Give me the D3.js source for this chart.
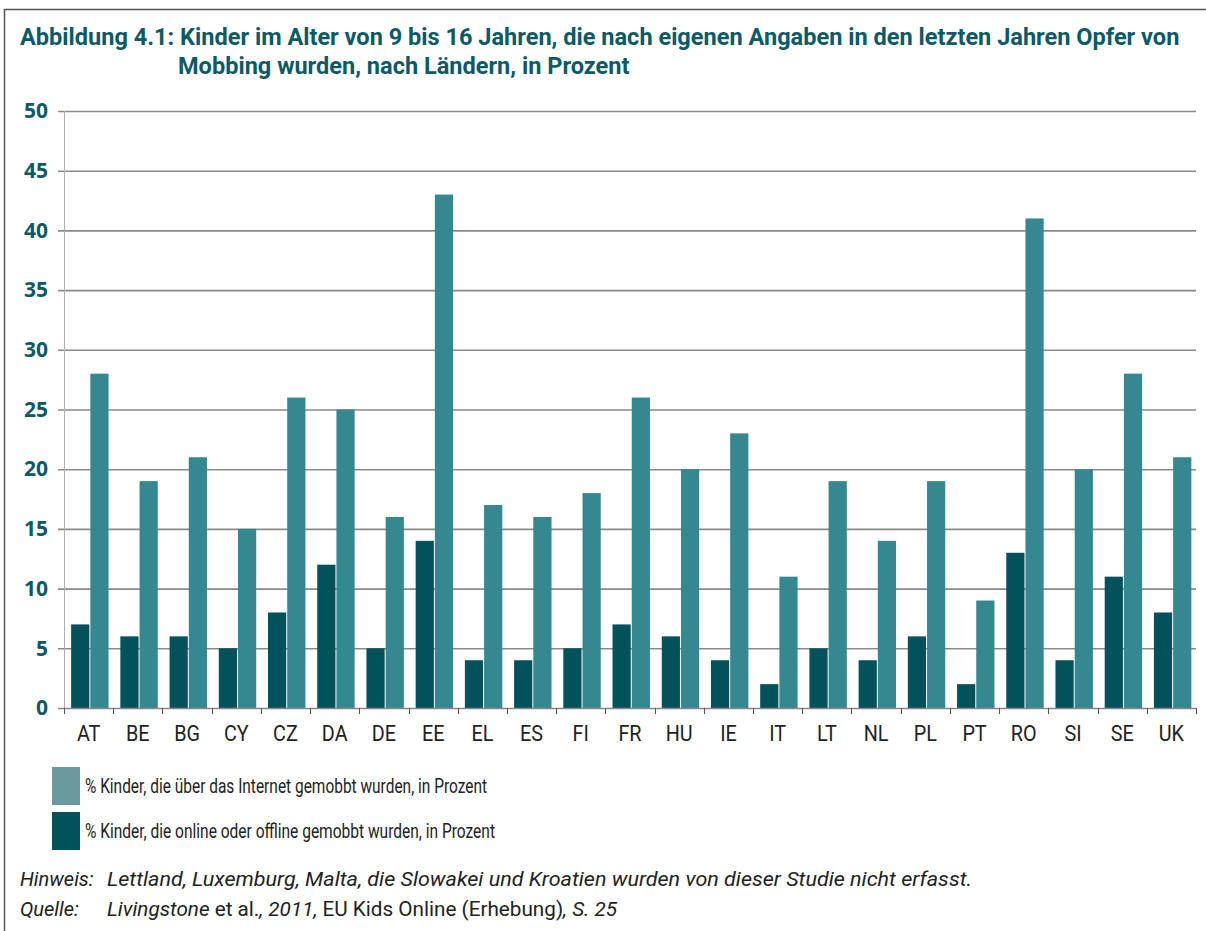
<!DOCTYPE html>
<html>
<head>
<meta charset="utf-8">
<script src="https://cdn.jsdelivr.net/npm/d3@7"></script>
<style>
  html, body { margin: 0; padding: 0; background: #fff; }
  svg { display: block; }
</style>
</head>
<body>
<div id="chart"></div>
<script>
(function () {
    'use strict';

    // ── Daten ────────────────────────────────────────────────────────────────
    const countries = ['AT','BE','BG','CY','CZ','DA','DE','EE','EL','ES','FI','FR',
                       'HU','IE','IT','LT','NL','PL','PT','RO','SI','SE','UK'];
    const darkValues  = [7, 6, 6, 5, 8, 12, 5, 14, 4, 4, 5, 7, 6, 4, 2, 5, 4, 6, 2, 13, 4, 11, 8];
    const lightValues = [28, 19, 21, 15, 26, 25, 16, 43, 17, 16, 18, 26, 20, 23, 11, 19, 14, 19, 9, 41, 20, 28, 21];
    const yTicks = [0, 5, 10, 15, 20, 25, 30, 35, 40, 45, 50];
    const legendLabels = [
        '% Kinder, die über das Internet gemobbt wurden, in Prozent',
        '% Kinder, die online oder offline gemobbt wurden, in Prozent'
    ];
    const legendWidths = [402, 410];

    const W = 1206, H = 931;
    const TEAL_TXT = '#0b5a66';
    const DARK = '#02525c', LIGHT = '#358890', SWATCH_LIGHT = '#6a9a9e';
    const SANS = 'Roboto, "Noto Sans", sans-serif';

    const svg = d3.select('#chart').append('svg')
        .attr('width', W).attr('height', H);

    // ── Rahmen ───────────────────────────────────────────────────────────────
    svg.append('path')
        .attr('d', `M4.5,${H} V9.5 H${W}`)
        .attr('fill', 'none').attr('stroke', '#555').attr('stroke-width', 1.5);

    // ── Titel ────────────────────────────────────────────────────────────────
    // Schriftgröße so wählen, dass die Zeile ihre Breite aus dem Original hat
    function fitText(sel, target, base, maxSize) {
        sel.style('font-size', base + 'px');
        const w = sel.node().getComputedTextLength();
        const size = Math.min(maxSize, base * target / w);
        sel.style('font-size', size.toFixed(2) + 'px');
    }
    const title = svg.append('g')
        .style('font-family', SANS)
        .style('font-weight', 'bold')
        .attr('fill', TEAL_TXT);
    const t1 = title.append('text').attr('x', 20).attr('y', 45)
        .text('Abbildung 4.1: Kinder im Alter von 9 bis 16 Jahren, die nach eigenen Angaben in den letzten Jahren Opfer von');
    fitText(t1, 1160, 22, 24);
    const t2 = title.append('text').attr('x', 178).attr('y', 74)
        .text('Mobbing wurden, nach Ländern, in Prozent');
    t2.style('font-size', t1.style('font-size'));

    // ── Skalen ───────────────────────────────────────────────────────────────
    const x0 = 64, x1 = 1196, yTop = 111, yBot = 708;
    const x = d3.scaleBand().domain(countries).range([x0, x1]).padding(0);
    const y = d3.scaleLinear().domain([0, 50]).range([yBot, yTop]);
    const bw = x.bandwidth();
    const barW = bw * 0.37;

    // Gitterlinien
    svg.append('g').selectAll('line')
        .data(yTicks.filter(t => t > 0))
        .enter().append('line')
        .attr('x1', x0 - 6).attr('x2', x1)
        .attr('y1', d => y(d) + 0.5).attr('y2', d => y(d) + 0.5)
        .attr('stroke', '#8a8a8a').attr('stroke-width', 1.6);

    // y-Achse (Linie)
    svg.append('line')
        .attr('x1', x0 + 0.5).attr('x2', x0 + 0.5)
        .attr('y1', yTop).attr('y2', yBot)
        .attr('stroke', '#b0b0b0').attr('stroke-width', 1);

    // ── Balken ───────────────────────────────────────────────────────────────
    const bars = svg.append('g');
    bars.selectAll('rect.dark')
        .data(countries)
        .enter().append('rect')
        .attr('class', 'dark')
        .attr('x', d => x(d) + bw * 0.145)
        .attr('y', (d, i) => y(darkValues[i]))
        .attr('width', barW)
        .attr('height', (d, i) => yBot - y(darkValues[i]))
        .attr('fill', DARK);
    bars.selectAll('rect.light')
        .data(countries)
        .enter().append('rect')
        .attr('class', 'light')
        .attr('x', d => x(d) + bw * 0.145 + barW + 1)
        .attr('y', (d, i) => y(lightValues[i]))
        .attr('width', barW)
        .attr('height', (d, i) => yBot - y(lightValues[i]))
        .attr('fill', LIGHT);

    // ── Achsen ───────────────────────────────────────────────────────────────
    const yAxis = svg.append('g')
        .attr('transform', `translate(${x0 - 6},0)`)
        .call(d3.axisLeft(y).tickValues(yTicks).tickSize(0).tickPadding(10));
    yAxis.select('.domain').remove();
    yAxis.selectAll('text')
        .style('font-family', '"Open Sans", "Noto Sans", sans-serif')
        .style('font-weight', 'bold')
        .style('font-size', '21px')
        .attr('fill', TEAL_TXT);

    // x-Achse
    const xAxis = svg.append('g')
        .attr('transform', `translate(0,${yBot})`)
        .call(d3.axisBottom(x).tickSize(0).tickPadding(17));
    xAxis.select('.domain')
        .attr('stroke', '#888').attr('stroke-width', 1.5)
        .attr('d', `M${x0 - 6},0.5H${x1}`);
    xAxis.selectAll('text')
        .style('font-family', SANS)
        .style('font-size', '22px')
        .attr('fill', '#222')
        .attr('transform', 'scale(0.9,1)');

    // Trennstriche zwischen Ländern
    xAxis.append('g').selectAll('line')
        .data(countries.concat(['__end']))
        .enter().append('line')
        .attr('x1', (d, i) => Math.round(x0 + i * bw) + 0.5)
        .attr('x2', (d, i) => Math.round(x0 + i * bw) + 0.5)
        .attr('y1', 0).attr('y2', 6)
        .attr('stroke', '#555').attr('stroke-width', 1);

    // ── Legende ──────────────────────────────────────────────────────────────
    const legend = svg.append('g');
    const legendColors = [SWATCH_LIGHT, DARK];
    legendLabels.forEach((lab, i) => {
        const ly = 767 + i * 45;
        legend.append('rect')
            .attr('x', 52).attr('y', ly).attr('width', 28).attr('height', 38)
            .attr('fill', legendColors[i]);
        legend.append('text')
            .attr('x', 85).attr('y', ly + 26)
            .attr('textLength', legendWidths[i]).attr('lengthAdjust', 'spacingAndGlyphs')
            .style('font-family', SANS)
            .style('font-size', '20px')
            .attr('fill', '#222')
            .text(lab);
    });

    // ── Hinweis / Quelle ─────────────────────────────────────────────────────
    const foot = svg.append('g')
        .style('font-family', SANS)
        .style('font-size', '20px')
        .attr('fill', '#222');
    foot.append('text').attr('x', 20).attr('y', 886).style('font-style', 'italic').text('Hinweis:');
    foot.append('text').attr('x', 107).attr('y', 886).style('font-style', 'italic')
        .attr('textLength', 865).attr('lengthAdjust', 'spacingAndGlyphs')
        .text('Lettland, Luxemburg, Malta, die Slowakei und Kroatien wurden von dieser Studie nicht erfasst.');
    foot.append('text').attr('x', 20).attr('y', 916).style('font-style', 'italic').text('Quelle:');
    const q = foot.append('text').attr('x', 107).attr('y', 916)
        .attr('textLength', 510).attr('lengthAdjust', 'spacingAndGlyphs');
    q.append('tspan').style('font-style', 'italic').text('Livingstone');
    q.append('tspan').text(' et al.');
    q.append('tspan').style('font-style', 'italic').text(', 2011, ');
    q.append('tspan').text('EU Kids Online (Erhebung)');
    q.append('tspan').style('font-style', 'italic').text(', S. 25');
})();
</script>
</body>
</html>
